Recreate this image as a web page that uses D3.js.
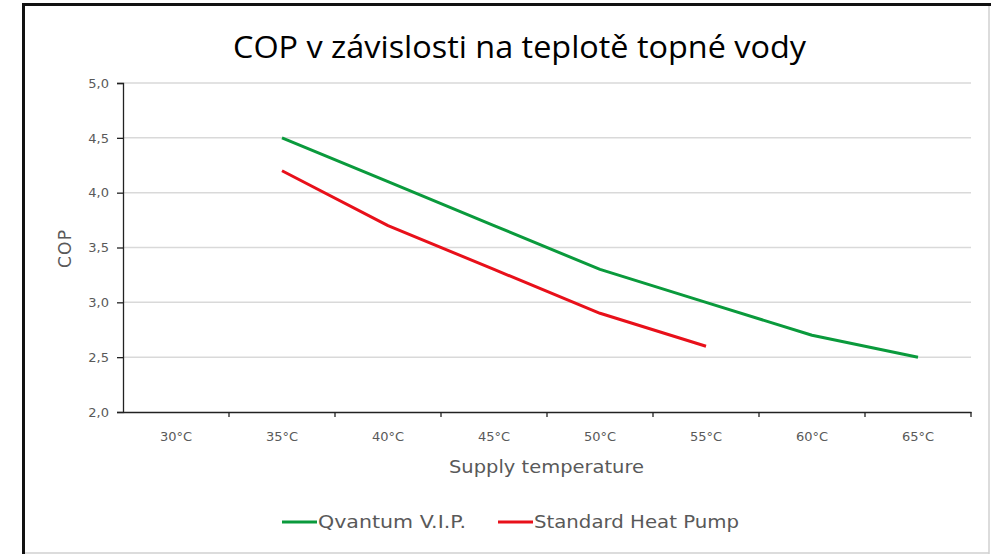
<!DOCTYPE html>
<html>
<head>
<meta charset="utf-8">
<script src="https://cdn.jsdelivr.net/npm/d3@7"></script>
<style>
  body { margin: 0; background: #fff; }
  svg { display: block; }
</style>
</head>
<body>
<div id="chart"></div>
<script>
// data
const categories = ["30°C", "35°C", "40°C", "45°C", "50°C", "55°C", "60°C", "65°C"];
const qvantumCats = ["35°C", "40°C", "45°C", "50°C", "55°C", "60°C", "65°C"];
const qvantumCop = [4.5, 4.1, 3.7, 3.3, 3.0, 2.7, 2.5];
const standardCats = ["35°C", "40°C", "45°C", "50°C", "55°C"];
const standardCop = [4.2, 3.7, 3.3, 2.9, 2.6];
const yTicks = [2.0, 2.5, 3.0, 3.5, 4.0, 4.5, 5.0];
const seriesNames = ["Qvantum V.I.P.", "Standard Heat Pump"];

const W = 991, H = 554;
const margin = {top: 83, right: 20, bottom: 142, left: 123};
const width = 971 - margin.left;
const height = 412 - margin.top;
const font = "'DejaVu Sans', Verdana, sans-serif";

const svg = d3.select("#chart").append("svg")
    .attr("width", W)
    .attr("height", H);

// frame: black on top/left, light grey on right/bottom
svg.append("line").attr("x1", 23.5).attr("x2", 23.5).attr("y1", 3).attr("y2", H)
    .attr("stroke", "#111").attr("stroke-width", 3);
svg.append("line").attr("x1", 22).attr("x2", W).attr("y1", 4.5).attr("y2", 4.5)
    .attr("stroke", "#111").attr("stroke-width", 3);
svg.append("line").attr("x1", 989).attr("x2", 989).attr("y1", 6).attr("y2", H)
    .attr("stroke", "#d0d0d0").attr("stroke-width", 1.5);
svg.append("line").attr("x1", 25).attr("x2", 989).attr("y1", 553).attr("y2", 553)
    .attr("stroke", "#d0d0d0").attr("stroke-width", 1.5);

const g = svg.append("g")
    .attr("transform", `translate(${margin.left},${margin.top})`);

const x = d3.scaleBand().domain(categories).range([0, width]).padding(0);
const y = d3.scaleLinear().domain([2, 5]).range([height, 0]);

// gridlines
g.append("g")
    .selectAll("line")
    .data(yTicks.filter(d => d > 2))
    .join("line")
    .attr("x1", 0).attr("x2", width)
    .attr("y1", d => y(d)).attr("y2", d => y(d))
    .attr("stroke", "#d9d9d9").attr("stroke-width", 1.5);

const fmt = d => d3.format(".1f")(d).replace(".", ",");

// y axis
const yAxis = g.append("g")
    .call(d3.axisLeft(y).tickValues(yTicks).tickFormat(fmt).tickSize(6).tickPadding(8));
yAxis.select(".domain").attr("stroke", "#222").attr("stroke-width", 1.3);
yAxis.selectAll(".tick line").attr("stroke", "#222").attr("stroke-width", 1.3);
yAxis.selectAll("text")
    .attr("fill", "#595959")
    .style("font-family", font)
    .style("font-size", "13px");

// x axis, ticks sit between categories
const xAxis = g.append("g")
    .attr("transform", `translate(0,${height})`)
    .call(d3.axisBottom(x).tickSize(0).tickPadding(20));
xAxis.select(".domain").attr("stroke", "#222").attr("stroke-width", 1.3);
xAxis.selectAll("text")
    .attr("fill", "#595959")
    .style("font-family", font)
    .style("font-size", "13px");
xAxis.append("g")
    .selectAll("line")
    .data(categories)
    .join("line")
    .attr("x1", d => x(d) + x.bandwidth()).attr("x2", d => x(d) + x.bandwidth())
    .attr("y1", 0).attr("y2", 5)
    .attr("stroke", "#222").attr("stroke-width", 1.3);

// lines
const line = d3.line()
    .x(d => x(d[0]) + x.bandwidth() / 2)
    .y(d => y(d[1]));

const series = [
    {name: seriesNames[0], color: "#0a9a3c", pts: d3.zip(qvantumCats, qvantumCop)},
    {name: seriesNames[1], color: "#e8101a", pts: d3.zip(standardCats, standardCop)}
];

g.selectAll(".series")
    .data(series)
    .join("path")
    .attr("class", "series")
    .attr("fill", "none")
    .attr("stroke", d => d.color)
    .attr("stroke-width", 3)
    .attr("stroke-linejoin", "round")
    .attr("d", d => line(d.pts));

// axis titles
svg.append("text")
    .attr("transform", "translate(71,249) rotate(-90)")
    .attr("text-anchor", "middle")
    .attr("fill", "#595959")
    .style("font-family", font)
    .style("font-size", "17px")
    .attr("textLength", 38)
    .text("COP");

svg.append("text")
    .attr("x", 449).attr("y", 473)
    .attr("fill", "#595959")
    .style("font-family", font)
    .style("font-size", "17px")
    .attr("textLength", 195)
    .attr("lengthAdjust", "spacingAndGlyphs")
    .text("Supply temperature");

// title
svg.append("text")
    .attr("x", 233).attr("y", 58)
    .attr("fill", "#000")
    .style("font-family", "'Open Sans', 'Noto Sans', sans-serif")
    .style("font-size", "31px")
    .attr("textLength", 573)
    .attr("lengthAdjust", "spacingAndGlyphs")
    .text("COP v závislosti na teplotě topné vody");

// legend
const legX = [282, 498];
const legW = [148, 205];
const leg = svg.append("g").selectAll("g")
    .data(series)
    .join("g")
    .attr("transform", (d, i) => `translate(${legX[i]},522)`);
leg.append("line")
    .attr("x1", 0).attr("x2", 35).attr("y1", 0).attr("y2", 0)
    .attr("stroke", d => d.color).attr("stroke-width", 3);
leg.append("text")
    .attr("x", 36).attr("y", 6)
    .attr("fill", "#595959")
    .style("font-family", font)
    .style("font-size", "17px")
    .attr("textLength", (d, i) => legW[i])
    .attr("lengthAdjust", "spacingAndGlyphs")
    .text(d => d.name);
</script>
</body>
</html>
